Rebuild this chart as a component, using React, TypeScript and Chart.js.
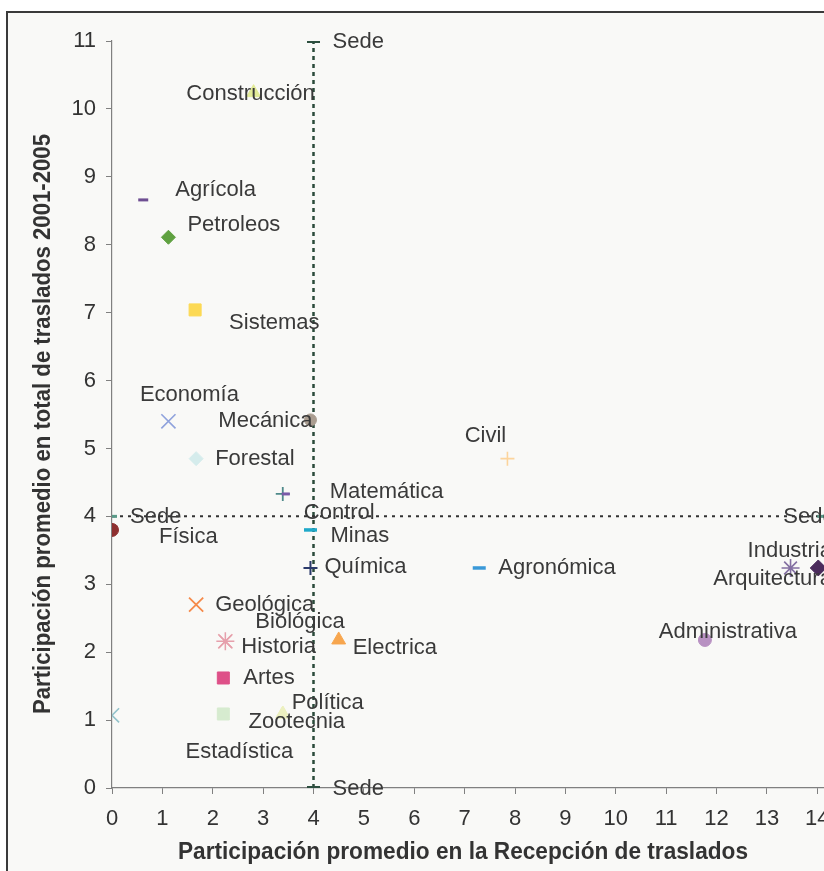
import React, { useEffect, useRef } from 'react';
import { Chart, registerables } from 'chart.js';

Chart.register(...registerables);

// ---- data ----
const names = [
  'Sede', 'Construcción', 'Agrícola', 'Petroleos', 'Sistemas', 'Economía', 'Mecánica', 'Forestal',
  'Civil', 'Matemática', 'Control', 'Minas', 'Química', 'Sede', 'Física', 'Geológica',
  'Biológica', 'Historia', 'Electrica', 'Artes', 'Estadística', 'Zootecnia', 'Política', '',
  'Sede', 'Agronómica', 'Administrativa', 'Industria', 'Arquitectura', 'Sede',
];
const recepcion = [
  4, 2.81, 0.62, 1.12, 1.65, 1.12, 3.94, 1.67,
  7.85, 3.39, 3.45, 3.94, 3.94, 0, 0, 1.67,
  2.25, 2.25, 4.5, 2.21, 2.21, 3.39, 3.39, 0,
  4, 7.29, 11.77, 13.47, 14.02, 14.1,
];
const traslados = [
  11, 10.24, 8.66, 8.11, 7.04, 5.4, 5.42, 4.85,
  4.85, 4.33, 4.33, 3.8, 3.24, 4.0, 3.8, 2.7,
  2.16, 2.16, 2.18, 1.62, 1.09, 1.09, 1.09, 1.07,
  0, 3.24, 2.18, 3.24, 3.24, 4.0,
];
const sedeVerticalX = [4, 4];
const sedeVerticalY = [0, 11];
const sedeHorizontalX = [0, 14.1];
const sedeHorizontalY = [4, 4];
const xTicksMax = 16;
const yTicksMax = 11;

// ---- styles (marker shape, colour, radius, border width) ----
const markerShapes = [
  'line', 'triangle', 'line', 'rectRot', 'rect', 'crossRot', 'circle', 'rectRot',
  'cross', 'cross', 'line', 'line', 'cross', 'line', 'circle', 'crossRot',
  'crossRot', 'star', 'triangle', 'rect', 'rect', 'triangle', 'triangle', 'crossRot',
  'line', 'line', 'circle', 'star', 'rectRot', 'line',
];
const markerColors = [
  '#2d4f3f', '#e2eb98', '#6e4e92', '#5fa140', '#fcd954', '#8fa2dc', '#aa9d90', '#d5ecec',
  '#fcd49c', '#4f8a8a', '#7a5aa8', '#1fa9c9', '#2b3a6b', '#5a9a88', '#8d2f2f', '#f58a4a',
  '#e8a0a8', '#e6a0ac', '#f7a64e', '#de5088', '#d6ebcf', '#ecf0c0', '#ecf0c0', '#92c2ca',
  '#2d4f3f', '#3a99d8', '#b891c2', '#8470a2', '#4b2b5c', '#5a9a88',
];
const markerRadius = [
  6.5, 8, 5, 7, 8.5, 10, 6, 7,
  7, 7, 4, 6.5, 7, 5, 6.5, 10,
  10, 9, 8, 8.5, 8.5, 8, 8, 10,
  6.5, 6.5, 6.5, 9, 8, 5,
];
const markerBorder = [
  4, 1, 3, 1, 1, 1.6, 1, 1,
  1.6, 1.8, 3, 3.5, 2, 3, 1, 1.8,
  1.5, 1.5, 1, 1, 1, 1, 1, 1.6,
  4, 3.5, 1, 1.6, 1, 3,
];
// [textAlign, dx, dy] relative to the marker pixel
const labelPlacement: [CanvasTextAlign, number, number][] = [
  ['left', 19, 1], ['center', -3, 1], ['left', 32, -10], ['left', 19, -12],
  ['left', 34, 13], ['center', 21, -26], ['right', 2, 1], ['left', 19, 0],
  ['center', -22, -23], ['left', 47, -2], ['left', 18, 19], ['left', 20, 6],
  ['left', 14, -1], ['left', 18, 1], ['left', 47, 7], ['left', 19, 0],
  ['left', 30, -19], ['left', 16, 6], ['left', 14, 8], ['left', 20, 0],
  ['center', 16, 38], ['center', 14, 8], ['center', 45, -11], ['left', 0, 0],
  ['left', 19, 1], ['left', 19, 0], ['center', 23, -8], ['left', -43, -17],
  ['left', -105, 11], ['left', -39, 1],
];

const FONT = '"Liberation Sans", Arial, sans-serif';
const W = 960;
const H = 871;

const labelPlugin = {
  id: 'pointLabels',
  afterDatasetsDraw(chart: any) {
    const meta = chart.getDatasetMeta(2);
    const ctx = chart.ctx as CanvasRenderingContext2D;
    ctx.save();
    ctx.font = `22px ${FONT}`;
    ctx.fillStyle = '#3a3a3a';
    ctx.textBaseline = 'middle';
    names.forEach((n, i) => {
      if (!n) return;
      const el = meta.data[i];
      const [align, dx, dy] = labelPlacement[i];
      ctx.textAlign = align;
      ctx.fillText(n, el.x + dx, el.y + dy);
    });
    ctx.restore();
  },
};

const titlePlugin = {
  id: 'axisTitles',
  afterDraw(chart: any) {
    const ctx = chart.ctx as CanvasRenderingContext2D;
    const draw = (text: string, cx: number, cy: number, rot: number, targetW: number) => {
      ctx.save();
      ctx.font = `bold 23px ${FONT}`;
      ctx.fillStyle = '#333333';
      ctx.textAlign = 'center';
      ctx.textBaseline = 'middle';
      const w = ctx.measureText(text).width;
      ctx.translate(cx, cy);
      ctx.rotate(rot);
      ctx.scale(targetW / w, 1);
      ctx.fillText(text, 0, 0);
      ctx.restore();
    };
    draw('Participación promedio en la Recepción de traslados', 463, 853, 0, 570);
    draw('Participación promedio en total de traslados 2001-2005', 44, 424, -Math.PI / 2, 580);
  },
};

export default function App() {
  const ref = useRef<HTMLCanvasElement>(null);
  useEffect(() => {
    if (!ref.current) return;
    const chart = new Chart(ref.current, {
      type: 'scatter',
      data: {
        datasets: [
          {
            label: 'SedeV',
            data: sedeVerticalX.map((x, i) => ({ x, y: sedeVerticalY[i] })),
            showLine: true,
            borderColor: '#2a4a3a',
            borderWidth: 2.5,
            borderDash: [4, 4],
            pointRadius: 0,
            order: 3,
          } as any,
          {
            label: 'SedeH',
            data: sedeHorizontalX.map((x, i) => ({ x, y: sedeHorizontalY[i] })),
            showLine: true,
            borderColor: '#333333',
            borderWidth: 2,
            borderDash: [3, 5],
            pointRadius: 0,
            order: 2,
          } as any,
          {
            label: 'Carreras',
            data: recepcion.map((x, i) => ({ x, y: traslados[i] })),
            pointStyle: markerShapes as any,
            pointRadius: markerRadius,
            pointBackgroundColor: markerColors,
            pointBorderColor: markerColors,
            pointBorderWidth: markerBorder,
            order: 1,
          } as any,
        ],
      },
      options: {
        responsive: false,
        animation: false,
        devicePixelRatio: 1,
        layout: { padding: { top: 41, right: W - 918, left: 0, bottom: 0 } },
        plugins: { legend: { display: false }, tooltip: { enabled: false } },
        scales: {
          x: {
            type: 'linear',
            min: 0,
            max: xTicksMax,
            afterFit: (s: any) => { s.height = H - 788; },
            ticks: { stepSize: 1, color: '#333333', font: { family: FONT, size: 22 }, padding: 12 },
            grid: { drawOnChartArea: false, drawTicks: true, tickLength: 6, color: '#808080' },
            border: { color: '#808080', width: 1.2 },
          },
          y: {
            type: 'linear',
            min: 0,
            max: yTicksMax,
            afterFit: (s: any) => { s.width = 112; },
            ticks: { stepSize: 1, color: '#333333', font: { family: FONT, size: 22 }, padding: 10 },
            grid: { drawOnChartArea: false, drawTicks: true, tickLength: 6, color: '#808080' },
            border: { color: '#808080', width: 1.2 },
          },
        },
      } as any,
      plugins: [labelPlugin, titlePlugin],
    });
    return () => chart.destroy();
  }, []);

  return (
    <div style={{ position: 'fixed', left: 0, top: 0, width: 824, height: 871, overflow: 'hidden', background: '#ffffff' }}>
      <div
        style={{
          position: 'absolute', left: 6, top: 11, width: 1000, height: 1000,
          borderLeft: '2px solid #3a3a3a', borderTop: '2px solid #3a3a3a', background: '#f9f9f7',
        }}
      />
      <canvas ref={ref} width={W} height={H} style={{ position: 'absolute', left: 0, top: 0, width: W, height: H }} />
    </div>
  );
}
